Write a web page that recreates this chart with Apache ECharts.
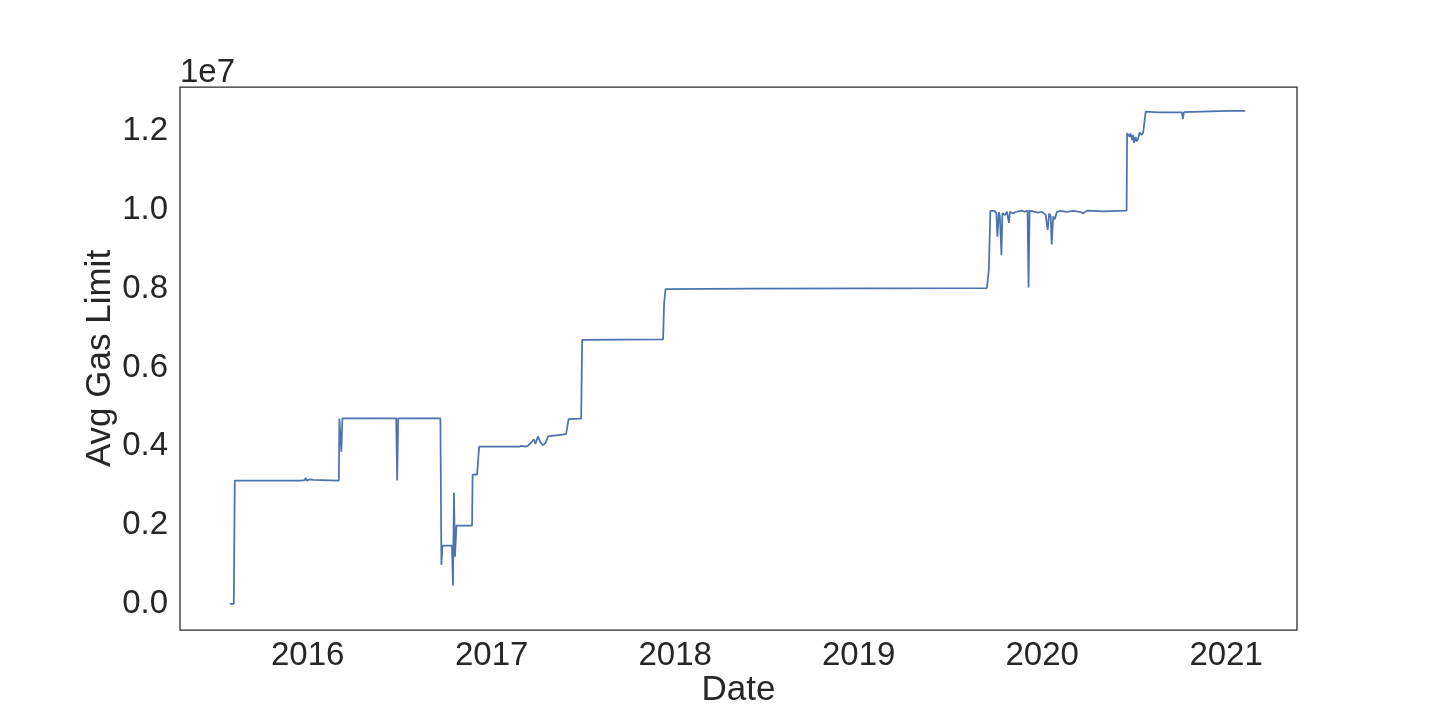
<!DOCTYPE html>
<html>
<head>
<meta charset="utf-8">
<script src="https://cdn.jsdelivr.net/npm/echarts@6/dist/echarts.min.js"></script>
<style>
html,body{margin:0;padding:0;background:#fff;}
#chart{width:1440px;height:720px;}
</style>
</head>
<body>
<div id="chart"></div>
<script>
// ---- data ----
const dates = [
'2015-07-30','2015-08-07','2015-08-09','2015-12-13','2015-12-15','2015-12-17','2015-12-26','2015-12-28','2015-12-30',
'2016-01-05','2016-01-07','2016-01-12','2016-01-14','2016-03-03','2016-03-04','2016-03-06','2016-03-08','2016-03-10',
'2016-06-15','2016-06-17','2016-06-19','2016-06-25','2016-06-27','2016-06-29','2016-09-21','2016-09-23','2016-09-25',
'2016-10-14','2016-10-16','2016-10-18','2016-10-20','2016-10-23','2016-11-23','2016-11-24','2016-12-03','2016-12-07',
'2017-02-25','2017-03-01','2017-03-10','2017-03-14','2017-03-22','2017-03-26','2017-03-29','2017-04-03','2017-04-08',
'2017-04-13','2017-04-18','2017-04-23','2017-04-26','2017-05-29','2017-06-01','2017-06-03','2017-06-28','2017-06-30',
'2017-12-08','2017-12-10','2017-12-13','2018-06-01','2019-09-13','2019-09-17','2019-09-20','2019-09-29','2019-10-02',
'2019-10-04','2019-10-07','2019-10-09','2019-10-12','2019-10-14','2019-10-19','2019-10-23','2019-10-27','2019-10-29',
'2019-11-04','2019-11-11','2019-11-21','2019-11-27','2019-12-03','2019-12-05','2019-12-07','2019-12-14','2019-12-24',
'2019-12-31','2020-01-03','2020-01-08','2020-01-12','2020-01-15','2020-01-18','2020-01-20','2020-01-23','2020-01-26',
'2020-01-30','2020-02-05','2020-02-18','2020-03-03','2020-03-16','2020-03-23','2020-03-30','2020-05-02','2020-06-17',
'2020-06-18','2020-06-20','2020-06-23','2020-06-25','2020-06-28','2020-06-30','2020-07-02','2020-07-05','2020-07-07',
'2020-07-10','2020-07-13','2020-07-17','2020-07-20','2020-07-23','2020-07-25','2020-08-20','2020-10-05','2020-10-07',
'2020-10-09','2021-01-05','2021-02-08'
];
const gasLimit = [
5000,5000,3130000,3130000,3170000,3130000,3140000,3200000,3130000,
3160000,3130000,3150000,3130000,3130000,4700000,4710000,3860000,4710000,
4710000,4750000,4710000,4710000,3130000,4710000,4710000,990000,1480000,
1480000,470000,2820000,1200000,1990000,1990000,3280000,3280000,3990000,
3990000,4010000,3990000,4010000,4120000,4180000,4060000,4250000,4100000,
4030000,4080000,4250000,4290000,4310000,4330000,4690000,4700000,6700000,
6710000,7630000,7990000,8000000,8010000,8470000,9970000,9970000,9910000,
9320000,9940000,9830000,8850000,9910000,9870000,9950000,9670000,9950000,
9910000,9950000,9980000,9950000,9980000,8030000,9980000,9960000,9930000,
9950000,9910000,9870000,9490000,9910000,9830000,9120000,9830000,9760000,
9940000,9970000,9950000,9970000,9950000,9910000,9980000,9960000,9980000,
11940000,11960000,11850000,11940000,11770000,11900000,11700000,11850000,11740000,
11800000,11960000,11900000,11960000,11940000,12490000,12470000,12470000,12300000,
12480000,12510000,12510000
];
const yTicks = [0, 2000000, 4000000, 6000000, 8000000, 10000000, 12000000];
const xTickYears = ['2016-01-01', '2017-01-01', '2018-01-01', '2019-01-01', '2020-01-01', '2021-01-01'];
const xRange = ['2015-04-22', '2021-05-22'];
const xTitle = 'Date';
const yTitle = 'Avg Gas Limit';
const offsetText = '1e7';

// ---- chart ----
const FONT = '"Liberation Sans", Arial, sans-serif';
const TXT = '#262626';
const chart = echarts.init(document.getElementById('chart'), null, {renderer: 'canvas'});
const ts = s => Date.parse(s + 'T00:00:00Z');
const seriesData = dates.map((d, i) => [ts(d), gasLimit[i]]);
const xTickValues = xTickYears.map(ts);

chart.setOption({
  animation: false,
  backgroundColor: '#ffffff',
  grid: {left: 180, top: 87, width: 1117, height: 543, show: true,
         borderColor: TXT, borderWidth: 1.25, backgroundColor: 'transparent'},
  xAxis: {
    type: 'value',
    min: ts(xRange[0]),
    max: ts(xRange[1]),
    axisLine: {show: false},
    axisTick: {show: false},
    splitLine: {show: false},
    axisLabel: {
      customValues: xTickValues,
      formatter: v => String(new Date(v).getUTCFullYear()),
      fontFamily: FONT, fontSize: 33, color: TXT, margin: 9
    },
    name: xTitle,
    nameLocation: 'middle',
    nameGap: 43,
    nameMoveOverlap: false,
    nameTextStyle: {fontFamily: FONT, fontSize: 35, color: TXT}
  },
  yAxis: {
    type: 'value',
    min: -660000,
    max: 13115000,
    axisLine: {show: false},
    axisTick: {show: false},
    splitLine: {show: false},
    axisLabel: {
      customValues: yTicks,
      formatter: v => (v / 1e7).toFixed(1),
      fontFamily: FONT, fontSize: 33, color: TXT, margin: 12
    },
    name: yTitle,
    nameLocation: 'middle',
    nameGap: 62,
    nameMoveOverlap: false,
    nameTextStyle: {fontFamily: FONT, fontSize: 35, color: TXT}
  },
  graphic: [{
    type: 'text', left: 180, top: 56,
    style: {text: offsetText, font: '33px ' + FONT, fill: TXT}
  }],
  series: [{
    type: 'line',
    data: seriesData,
    showSymbol: false,
    symbol: 'none',
    lineStyle: {color: '#4C72B0', width: 1.75},
    itemStyle: {color: '#4C72B0'}
  }]
});
</script>
</body>
</html>
